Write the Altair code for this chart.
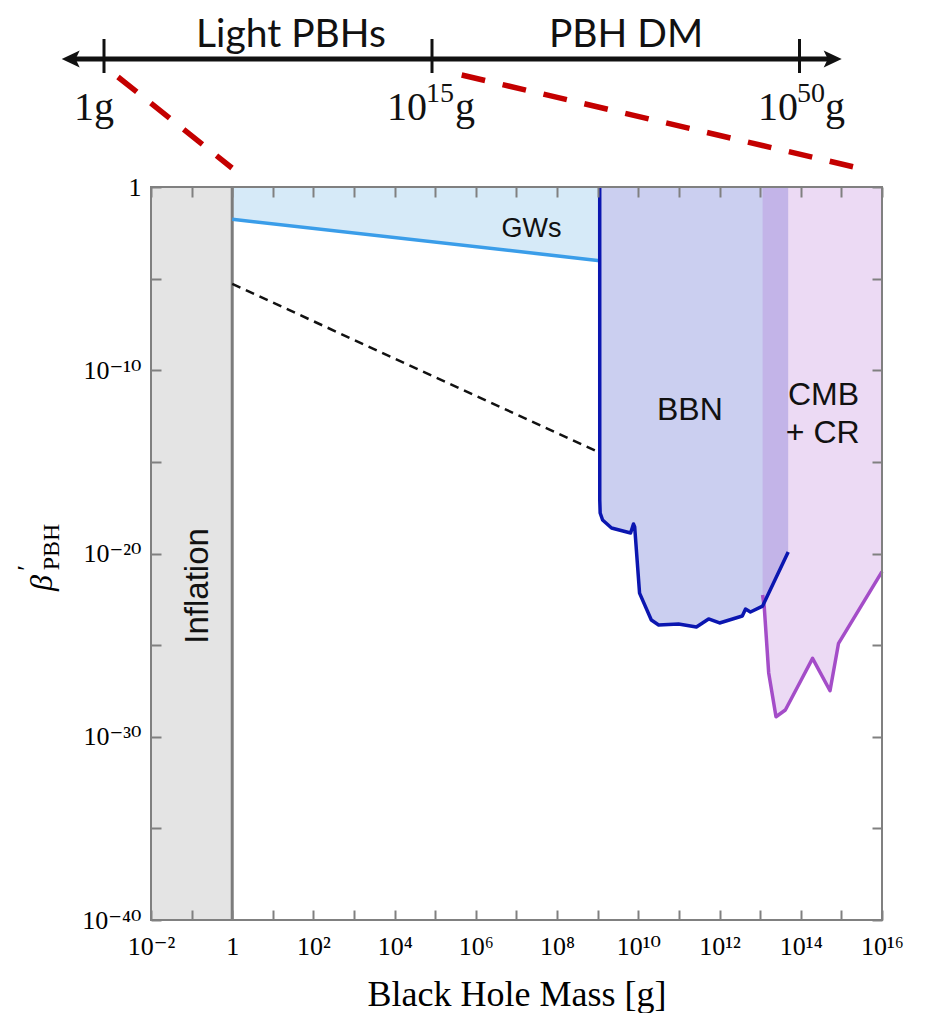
import json
import altair as alt
import pandas as pd

W, H = 731, 733

# ---------------- data (log10 units) ----------------
inflation_mass = [1e-2, 1.0]          # excluded by inflation
frame_mass = [1e-2, 1e16]
frame_beta = [1e-40, 1.0]

gw_log_mass = [0.0, 9.05]
gw_log_beta = [-1.76, -4.02]

dash_log_mass = [0.0, 9.05]
dash_log_beta = [-5.29, -14.50]

bbn_log_mass = [9.049, 9.05, 9.06, 9.12, 9.34, 9.81, 9.88, 9.91, 10.03, 10.32,
                10.50, 10.99, 11.43, 11.73, 12.00, 12.56, 12.64, 12.76, 13.06, 13.69]
bbn_log_beta = [0.0, -17.08, -17.79, -18.17, -18.61, -18.88, -18.39, -18.55, -22.16, -23.63,
                -23.90, -23.85, -24.01, -23.57, -23.79, -23.41, -23.03, -23.19, -22.87, -19.92]

cmb_log_mass = [13.06, 13.10, 13.21, 13.39, 13.62, 14.01, 14.29, 14.72, 14.93, 16.0]
cmb_log_beta = [-22.26, -22.90, -26.52, -28.91, -28.54, -26.90, -25.72, -27.49, -24.90, -20.99]

region_text = ["GWs", "BBN", "CMB", "+ CR"]
region_log_mass = [7.37, 11.27, 14.56, 14.54]
region_log_beta = [-2.73, -12.71, -11.90, -13.97]
region_size = [27, 32, 32, 32]

inflation_text = ["Inflation"]
inflation_log_mass = [-0.598]
inflation_log_beta = [-21.77]

x_tick_exps = list(range(-2, 17))
x_tick_labels = ["10⁻²", "", "1", "", "10²", "", "10⁴", "", "10⁶", "", "10⁸", "",
                 "10¹⁰", "", "10¹²", "", "10¹⁴", "", "10¹⁶"]
y_tick_exps = [0, -5, -10, -15, -20, -25, -30, -35, -40]
y_tick_labels = ["1", "", "10⁻¹⁰", "", "10⁻²⁰", "", "10⁻³⁰", "", "10⁻⁴⁰"]

# schematic mass timeline above the plot (diagram units: px from plot left / above plot top)
timeline_ends = [-80.3, 681.7]
timeline_height = 128
timeline_tick_pos = [-47, 281, 648.5]
timeline_tick_span = [114, 148]
tl_one_text = ["1g"]
tl_one_pos = [-57]
tl_base_text = ["10", "10"]
tl_base_pos = [236, 607]
tl_exp_text = ["15", "50"]
tl_exp_pos = [275, 646]
tl_unit_text = ["g", "g"]
tl_unit_pos = [304, 674]
tl_base_h = 67
tl_exp_h = 85
range_text = ["Light PBHs", "PBH DM"]
range_pos = [140, 475]
range_h = 140
zoom_from_d = [-33, 310.7]
zoom_from_h = [110, 112]
zoom_to_d = [81, 702]
zoom_to_h = [19, 20.3]

# y-axis title pieces
ytitle_text = ["β", "′", "PBH"]
ytitle_d = [-109, -124, -99.5]
ytitle_h = [-396, -381, -360]

# ---------------- helpers ----------------
def logdf(lm, lb):
    return pd.DataFrame({"i": list(range(len(lm))),
                         "m": [10.0 ** v for v in lm],
                         "b": [10.0 ** v for v in lb],
                         "top": [1.0] * len(lm)})

SERIF = "Liberation Serif, DejaVu Serif"
SANS = "Liberation Sans"
GRAY = "#808080"

xs = alt.Scale(type="log", domain=[1e-2, 1e16], nice=False)
ys = alt.Scale(type="log", domain=[1e-40, 1.0], nice=False)

x_axis = alt.Axis(
    values=[10.0 ** k for k in x_tick_exps],
    labelExpr=json.dumps(x_tick_labels, ensure_ascii=False) + "[round(log(datum.value)/LN10)+2]",
    orient="bottom", offset=-10, tickSize=10, tickWidth=2, tickColor=GRAY,
    domain=False, grid=False, labelOverlap=False, labelFlush=False,
    labelFont=SERIF, labelFontSize=26, labelColor="black",
    labelBaseline="alphabetic", labelPadding=34,
    title="Black Hole Mass [g]", titleFont=SERIF, titleFontSize=36,
    titleFontWeight="normal", titleColor="black",
    titleBaseline="alphabetic", titleY=95, zindex=1)

y_axis = alt.Axis(
    values=[10.0 ** k for k in y_tick_exps],
    labelExpr=json.dumps(y_tick_labels, ensure_ascii=False) + "[round(-log(datum.value)/LN10/5)]",
    orient="left", offset=-10, tickSize=10, tickWidth=2, tickColor=GRAY,
    domain=False, grid=False, labelOverlap=False, labelFlush=False,
    labelFont=SERIF, labelFontSize=26, labelColor="black",
    labelPadding=10, title=None, zindex=1)

def X(f="m"):
    return alt.X(f"{f}:Q", scale=xs, axis=x_axis)

def Y(f="b"):
    return alt.Y(f"{f}:Q", scale=ys, axis=y_axis)

# ---------------- main plot layers ----------------
infl_df = pd.DataFrame({"m": [inflation_mass[0]], "m2": [inflation_mass[1]],
                        "b": [frame_beta[0]], "b2": [frame_beta[1]]})
inflation = alt.Chart(infl_df).mark_rect(color="#e4e4e4").encode(
    x=X(), x2="m2:Q", y=Y(), y2="b2:Q")

infl_edge = alt.Chart(infl_df).mark_rule(color="#7c7c7c", strokeWidth=3).encode(
    x=alt.X("m2:Q", scale=xs, axis=x_axis), y=Y(), y2="b2:Q")

gw = logdf(gw_log_mass, gw_log_beta)
gw_fill = alt.Chart(gw).mark_area(color="#d6eaf8", orient="vertical").encode(
    x=X(), y=Y(), y2=alt.Y2("top"))
gw_line = alt.Chart(gw).mark_line(color="#3a9de9", strokeWidth=3.5).encode(
    x=X(), y=Y(), order="i:Q")

dash = logdf(dash_log_mass, dash_log_beta)
dash_line = alt.Chart(dash).mark_line(color="#111111", strokeWidth=2.5,
                                      strokeDash=[9, 6]).encode(
    x=X(), y=Y(), order="i:Q")

bbn = logdf(bbn_log_mass, bbn_log_beta)
bbn_fill = alt.Chart(bbn).mark_area(color="#cbcff0", orient="vertical").encode(
    x=X(), y=Y(), y2=alt.Y2("top"))
bbn_line = alt.Chart(bbn).mark_line(color="#0b16b0", strokeWidth=3.5,
                                    strokeJoin="round").encode(
    x=X(), y=Y(), order="i:Q")

cmb = logdf(cmb_log_mass, cmb_log_beta)
cmb_fill = alt.Chart(cmb).mark_area(color="#a958cd", opacity=0.22,
                                    orient="vertical").encode(
    x=X(), y=Y(), y2=alt.Y2("top"))
cmb_line = alt.Chart(cmb).mark_line(color="#a44dc8", strokeWidth=3.5,
                                    strokeJoin="round").encode(
    x=X(), y=Y(), order="i:Q")

frame_df = pd.DataFrame({"m": [frame_mass[0]], "m2": [frame_mass[1]],
                         "b": [frame_beta[0]], "b2": [frame_beta[1]]})
frame = alt.Chart(frame_df).mark_rect(fillOpacity=0, stroke=GRAY, strokeWidth=2).encode(
    x=X(), x2="m2:Q", y=Y(), y2="b2:Q")

reg_df = pd.DataFrame({"t": region_text,
                       "m": [10.0 ** v for v in region_log_mass],
                       "b": [10.0 ** v for v in region_log_beta],
                       "s": region_size})
region_labels = alt.Chart(reg_df).mark_text(font=SANS, baseline="alphabetic",
                                            align="center", color="#111111").encode(
    x=X(), y=Y(), text="t:N", size=alt.Size("s:Q", scale=None))

infl_txt_df = pd.DataFrame({"t": inflation_text,
                            "m": [10.0 ** v for v in inflation_log_mass],
                            "b": [10.0 ** v for v in inflation_log_beta]})
infl_label = alt.Chart(infl_txt_df).mark_text(font=SANS, fontSize=33, angle=270,
                                              baseline="alphabetic", align="center",
                                              color="#111111").encode(
    x=X(), y=Y(), text="t:N")

main = alt.layer(inflation, gw_fill, bbn_fill, cmb_fill, infl_edge, gw_line,
                 dash_line, cmb_line, bbn_line, frame, region_labels, infl_label)

# ---------------- ticks on top / right ----------------
tick_df = pd.DataFrame({"m": [1.0], "b": [1e-20]})
ticks = alt.Chart(tick_df).mark_point(opacity=0).encode(
    x=alt.X("m:Q", scale=alt.Scale(type="log", domain=[1e-2, 1e16], nice=False),
            axis=alt.Axis(orient="top", values=[10.0 ** k for k in x_tick_exps],
                          labels=False, offset=-10, tickSize=10, tickWidth=2,
                          tickColor=GRAY, domain=False, grid=False, title=None, zindex=1)),
    y=alt.Y("b:Q", scale=alt.Scale(type="log", domain=[1e-40, 1.0], nice=False),
            axis=alt.Axis(orient="right", values=[10.0 ** k for k in y_tick_exps],
                          labels=False, offset=-10, tickSize=10, tickWidth=2,
                          tickColor=GRAY, domain=False, grid=False, title=None, zindex=1)))

# ---------------- schematic timeline / annotations ----------------
ds = alt.Scale(domain=[0, W], nice=False, zero=False)
hs = alt.Scale(domain=[-H, 0], nice=False, zero=False)

def D(f="d"):
    return alt.X(f"{f}:Q", scale=ds, axis=None)

def Hh(f="h"):
    return alt.Y(f"{f}:Q", scale=hs, axis=None)

shaft = alt.Chart(pd.DataFrame({"d": [timeline_ends[0]], "d2": [timeline_ends[1]],
                                "h": [timeline_height]})).mark_rule(
    color="#111111", strokeWidth=5).encode(x=D(), x2="d2:Q", y=Hh())

arrow_df = pd.DataFrame({"d": timeline_ends, "h": [timeline_height] * 2,
                         "shape": ["M-1,0 L1,-0.95 L0.55,0 L1,0.95 Z",
                                   "M1,0 L-1,-0.95 L-0.55,0 L-1,0.95 Z"]})
arrows = alt.Chart(arrow_df).mark_point(filled=True, size=324, color="#111111",
                                        opacity=1).encode(
    x=D(), y=Hh(), shape=alt.Shape("shape:N", scale=None))

tl_ticks = alt.Chart(pd.DataFrame({"d": timeline_tick_pos,
                                   "h": [timeline_tick_span[0]] * 3,
                                   "h2": [timeline_tick_span[1]] * 3})).mark_rule(
    color="#111111", strokeWidth=3).encode(x=D(), y=Hh(), y2="h2:Q")

def tl_text(texts, pos, h, size, align):
    return alt.Chart(pd.DataFrame({"t": texts, "d": pos, "h": [h] * len(texts)})).mark_text(
        font=SERIF, fontSize=size, baseline="alphabetic", align=align,
        color="#111111").encode(x=D(), y=Hh(), text="t:N")

tl_one = tl_text(tl_one_text, tl_one_pos, tl_base_h, 40, "center")
tl_base = tl_text(tl_base_text, tl_base_pos, tl_base_h, 40, "left")
tl_exp = tl_text(tl_exp_text, tl_exp_pos, tl_exp_h, 28, "left")
tl_unit = tl_text(tl_unit_text, tl_unit_pos, tl_base_h, 40, "left")

range_labels = alt.Chart(pd.DataFrame({"t": range_text, "d": range_pos,
                                       "h": [range_h] * 2})).mark_text(
    font="Lato", fontSize=39, baseline="alphabetic", align="center",
    color="#111111").encode(x=D(), y=Hh(), text="t:N")

zoom_lines = alt.Chart(pd.DataFrame({"d": zoom_from_d, "h": zoom_from_h,
                                     "d2": zoom_to_d, "h2": zoom_to_h})).mark_rule(
    color="#c40000", strokeWidth=5.5, strokeDash=[24, 18]).encode(
    x=D(), y=Hh(), x2="d2:Q", y2="h2:Q")

yt = pd.DataFrame({"t": ytitle_text, "d": ytitle_d, "h": ytitle_h})
ytitle_beta = alt.Chart(yt.iloc[[0]]).mark_text(
    font=SERIF, fontSize=32, fontStyle="italic", angle=270, align="center",
    baseline="middle", color="black").encode(x=D(), y=Hh(), text="t:N")
ytitle_prime = alt.Chart(yt.iloc[[1]]).mark_text(
    font=SERIF, fontSize=26, angle=270, align="center",
    baseline="middle", color="black").encode(x=D(), y=Hh(), text="t:N")
ytitle_sub = alt.Chart(yt.iloc[[2]]).mark_text(
    font=SERIF, fontSize=24, angle=270, align="center",
    baseline="middle", color="black").encode(x=D(), y=Hh(), text="t:N")

anno = alt.layer(zoom_lines, shaft, arrows, tl_ticks, tl_one, tl_base, tl_exp, tl_unit,
                 range_labels, ytitle_beta, ytitle_prime, ytitle_sub)

chart = alt.layer(main, ticks, anno).resolve_scale(
    x="independent", y="independent").properties(
    width=W, height=H,
    padding={"left": 143, "top": 179, "right": 30, "bottom": 93},
    autosize=alt.AutoSizeParams(type="none"),
    background="white").configure_view(stroke="transparent")

chart.save("out.html", embed_options={"renderer": "svg", "actions": False})
